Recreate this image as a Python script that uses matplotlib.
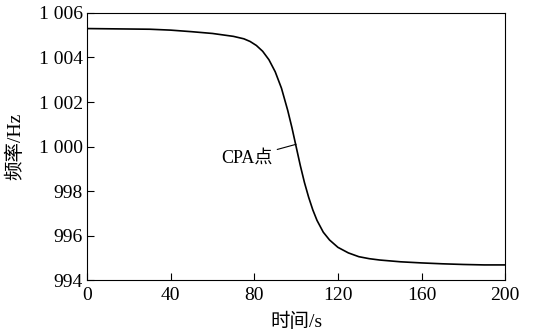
import matplotlib
import numpy as np

matplotlib.use("Agg")
import matplotlib.pyplot as plt

plt.rcParams["font.family"] = ["Liberation Serif", "Noto Sans CJK SC"]

# время, с / частота, Гц
t = [0, 20, 30, 40, 50, 60, 70, 75, 78, 81, 84, 87, 90, 93, 96, 98, 100,
     102, 104, 106, 108, 110, 113, 116, 120, 125, 130, 135, 140, 150, 160, 170, 180, 190, 200]
freq = [1005.30, 1005.28, 1005.27, 1005.23, 1005.16, 1005.08, 1004.95, 1004.84,
        1004.72, 1004.54, 1004.28, 1003.90, 1003.36, 1002.62, 1001.62, 1000.85,
        1000.00, 999.15, 998.38, 997.72, 997.15, 996.68, 996.15, 995.80, 995.47,
        995.22, 995.05, 994.96, 994.90, 994.82, 994.77, 994.73, 994.70, 994.68, 994.68]

x_ticks = [0, 40, 80, 120, 160, 200]
y_ticks = [994, 996, 998, 1000, 1002, 1004, 1006]
y_labels = ["994", "996", "998", "1 000", "1 002", "1 004", "1 006"]

fig = plt.figure(figsize=(5.34, 3.33), dpi=100)
ax = fig.add_axes([0.163, 0.159, 0.783, 0.802])

ax.plot(t, freq, color="black", lw=1.2)

ax.set_xlim(0, 200)
ax.set_ylim(994, 1006)
ax.set_xticks(x_ticks)
ax.set_yticks(y_ticks)
ax.set_yticklabels(y_labels)
ax.tick_params(direction="in", length=5, width=0.8, labelsize=14,
               top=False, right=False)
ax.tick_params(axis="x", pad=5)
ax.tick_params(axis="y", pad=3)
for s in ax.spines.values():
    s.set_linewidth(0.8)

ax.set_xlabel("时间/s", fontsize=14, labelpad=6)
ax.set_ylabel("频率/Hz", fontsize=14)
ax.yaxis.set_label_coords(-0.15, 0.5)

# точка CPA
ax.annotate("CPA点", xy=(100, 1000.1), xytext=(89, 999.5), fontsize=13,
            ha="right", va="center",
            arrowprops=dict(arrowstyle="-", color="black", lw=0.8,
                            shrinkA=1, shrinkB=0))

fig.savefig("out.png", dpi=100)
